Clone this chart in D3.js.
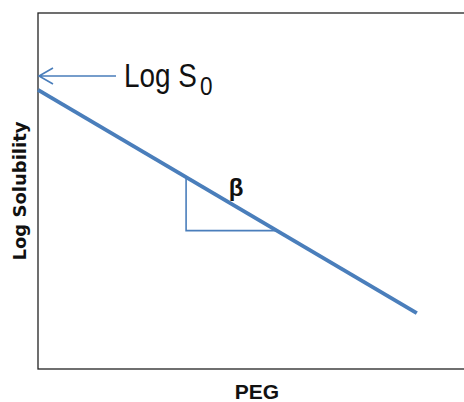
<!DOCTYPE html>
<html>
<head>
<meta charset="utf-8">
<script src="https://cdn.jsdelivr.net/npm/d3@7"></script>
<style>
  html, body { margin: 0; padding: 0; background: #fff; }
  svg { display: block; }
</style>
</head>
<body>
<svg id="chart" width="464" height="402"></svg>
<script>
// Solubility falls log-linearly as PEG is added
const pegValues = [0, 8.85];
const logSolubilityValues = [7.84, 1.57];
const logS0Marker = 8.23;           // where the intercept arrow points
const slopeTriangleX = [3.46, 5.58]; // run of the slope triangle
const axisLabels = { x: "PEG", y: "Log Solubility" };

const blue = "#4a7ebb";
const svg = d3.select("#chart");

const x = d3.scaleLinear().domain([0, 10]).range([38, 466]);
const y = d3.scaleLinear().domain([0, 10]).range([369, 13]);

// plot frame (its right side runs past the page edge)
svg.append("rect")
  .attr("x", x(0)).attr("y", y(10))
  .attr("width", x(10) - x(0)).attr("height", y(0) - y(10))
  .attr("fill", "none").attr("stroke", "#222").attr("stroke-width", 1.3);

// solubility line
const lineData = pegValues.map((p, i) => [p, logSolubilityValues[i]]);
svg.append("path")
  .datum(lineData)
  .attr("d", d3.line().x(d => x(d[0])).y(d => y(d[1])))
  .attr("fill", "none").attr("stroke", blue).attr("stroke-width", 4)
  .attr("stroke-linecap", "butt");

// slope triangle
const slope = (logSolubilityValues[1] - logSolubilityValues[0]) / (pegValues[1] - pegValues[0]);
const onLine = p => logSolubilityValues[0] + slope * (p - pegValues[0]);
const triBottom = onLine(slopeTriangleX[1]);
svg.append("path")
  .attr("d", d3.line()([
    [x(slopeTriangleX[0]), y(onLine(slopeTriangleX[0]))],
    [x(slopeTriangleX[0]), y(triBottom)],
    [x(slopeTriangleX[1]), y(triBottom)]
  ]))
  .attr("fill", "none").attr("stroke", blue).attr("stroke-width", 1.6);

svg.append("text")
  .attr("x", 236).attr("y", 196)
  .attr("text-anchor", "middle")
  .attr("font-family", "Liberation Sans, Arial, sans-serif")
  .attr("font-weight", "bold").attr("font-size", 24)
  .attr("fill", "#111")
  .text("β");

// intercept arrow and label
const ay = y(logS0Marker);
svg.append("path")
  .attr("d", `M${x(0) + 78},${ay}L${x(0) + 1},${ay}M${x(0) + 15},${ay - 8}L${x(0) + 1},${ay}L${x(0) + 15},${ay + 8}`)
  .attr("fill", "none").attr("stroke", blue).attr("stroke-width", 1.6);

svg.append("text")
  .attr("transform", "translate(124,87) scale(0.82,1)")
  .attr("font-family", "Liberation Sans, Arial, sans-serif")
  .attr("font-size", 34).attr("fill", "#111")
  .text("Log S");
svg.append("text")
  .attr("transform", "translate(200,95) scale(0.9,1)")
  .attr("font-family", "Liberation Sans, Arial, sans-serif")
  .attr("font-size", 25).attr("fill", "#111")
  .text("0");

// axis titles
svg.append("text")
  .attr("x", 257).attr("y", 399)
  .attr("text-anchor", "middle")
  .attr("font-family", "Liberation Sans, Arial, sans-serif")
  .attr("font-weight", "bold").attr("font-size", 21)
  .attr("fill", "#111")
  .text(axisLabels.x);

svg.append("text")
  .attr("transform", "translate(26,191) rotate(-90)")
  .attr("text-anchor", "middle")
  .attr("font-family", "DejaVu Sans, sans-serif")
  .attr("font-weight", "bold").attr("font-size", 18)
  .attr("fill", "#111")
  .text(axisLabels.y);
</script>
</body>
</html>
